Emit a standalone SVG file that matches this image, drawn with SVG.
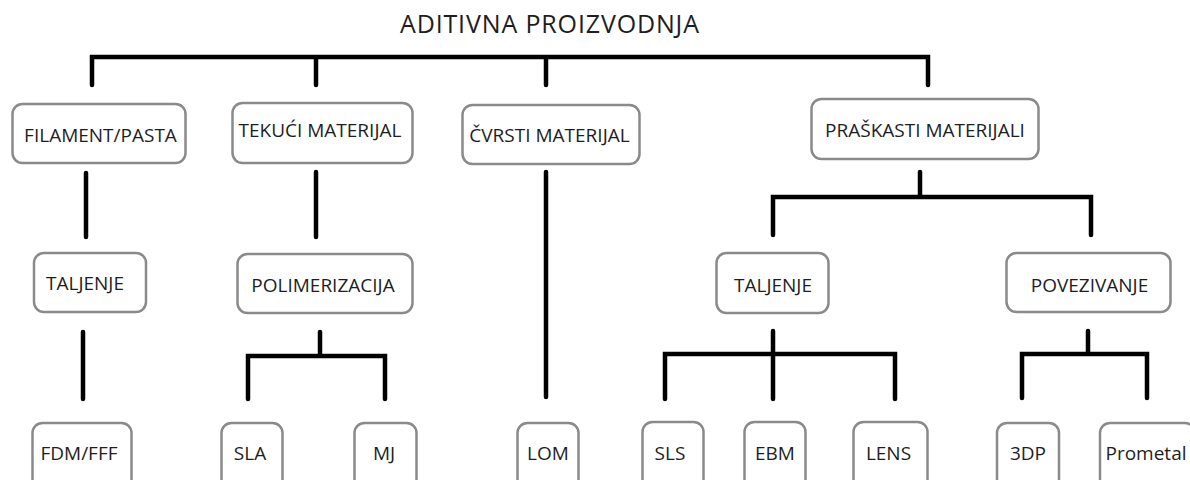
<svg xmlns="http://www.w3.org/2000/svg" width="1190" height="480" viewBox="0 0 1190 480">
<style>
.box{fill:#fff;stroke:#8a8a8a;stroke-width:2.5}
.lbl{font-family:"Open Sans","Liberation Sans",sans-serif;font-size:19px;fill:#1e1e1e;text-anchor:middle}
.title{font-family:"Open Sans","Liberation Sans",sans-serif;font-size:25px;fill:#1e1e1e;text-anchor:middle}
.con{fill:none;stroke:#000;stroke-width:4.5;stroke-linecap:round;stroke-linejoin:miter}
</style>
<rect width="1190" height="480" fill="#fff"/>
<g id="connectors">
<path class="con" d="M92 85V57H928V85M316 57V85M546 57V85"/>
<path class="con" d="M86 173V237"/>
<path class="con" d="M316 172V237"/>
<path class="con" d="M546 172V397"/>
<path class="con" d="M920 172V197M773 235V197H1091V235"/>
<path class="con" d="M83 332V399"/>
<path class="con" d="M320 332V356M248 399V356H385V399"/>
<path class="con" d="M773 331V399M665 399V354H895V399"/>
<path class="con" d="M1088 331V354M1022 398V354H1147V398"/>
</g>
<g id="title"><text class="title" x="549.5" y="33" textLength="299">ADITIVNA PROIZVODNJA</text></g>
<g id="n-filament"><rect class="box" x="12.5" y="104" width="173" height="59" rx="10"/><text class="lbl" x="100.5" y="142">FILAMENT/PASTA</text></g>
<g id="n-tekuci"><rect class="box" x="232.5" y="103" width="180" height="60" rx="10"/><text class="lbl" x="320" y="137">TEKUĆI MATERIJAL</text></g>
<g id="n-cvrsti"><rect class="box" x="462.5" y="105" width="177" height="59" rx="10"/><text class="lbl" x="549.5" y="142">ČVRSTI MATERIJAL</text></g>
<g id="n-praskasti"><rect class="box" x="811.5" y="99" width="227" height="60" rx="10"/><text class="lbl" x="925" y="137">PRAŠKASTI MATERIJALI</text></g>
<g id="n-taljenje1"><rect class="box" x="34" y="253" width="112" height="59" rx="10"/><text class="lbl" x="85" y="290">TALJENJE</text></g>
<g id="n-polimerizacija"><rect class="box" x="237.5" y="254" width="175" height="59" rx="10"/><text class="lbl" x="323" y="292">POLIMERIZACIJA</text></g>
<g id="n-taljenje2"><rect class="box" x="716.5" y="253" width="112" height="60" rx="10"/><text class="lbl" x="773" y="292">TALJENJE</text></g>
<g id="n-povezivanje"><rect class="box" x="1006.5" y="253" width="164" height="59" rx="10"/><text class="lbl" x="1089.5" y="292">POVEZIVANJE</text></g>
<g id="n-fdm"><rect class="box" x="32.5" y="423" width="99" height="70" rx="10"/><text class="lbl" x="79" y="460">FDM/FFF</text></g>
<g id="n-sla"><rect class="box" x="221.5" y="423" width="61" height="70" rx="10"/><text class="lbl" x="250" y="460">SLA</text></g>
<g id="n-mj"><rect class="box" x="354.5" y="423" width="62" height="70" rx="10"/><text class="lbl" x="384" y="460">MJ</text></g>
<g id="n-lom"><rect class="box" x="517.5" y="423" width="61" height="70" rx="10"/><text class="lbl" x="548" y="460">LOM</text></g>
<g id="n-sls"><rect class="box" x="642.5" y="422" width="61" height="70" rx="10"/><text class="lbl" x="670" y="460">SLS</text></g>
<g id="n-ebm"><rect class="box" x="744.5" y="422" width="61" height="70" rx="10"/><text class="lbl" x="775" y="460">EBM</text></g>
<g id="n-lens"><rect class="box" x="853.5" y="422" width="74" height="70" rx="10"/><text class="lbl" x="888.5" y="460">LENS</text></g>
<g id="n-3dp"><rect class="box" x="997" y="423" width="62" height="70" rx="10"/><text class="lbl" x="1028" y="460">3DP</text></g>
<g id="n-prometal"><rect class="box" x="1100" y="423" width="95" height="70" rx="10"/><text class="lbl" x="1146" y="460">Prometal</text></g>
</svg>
